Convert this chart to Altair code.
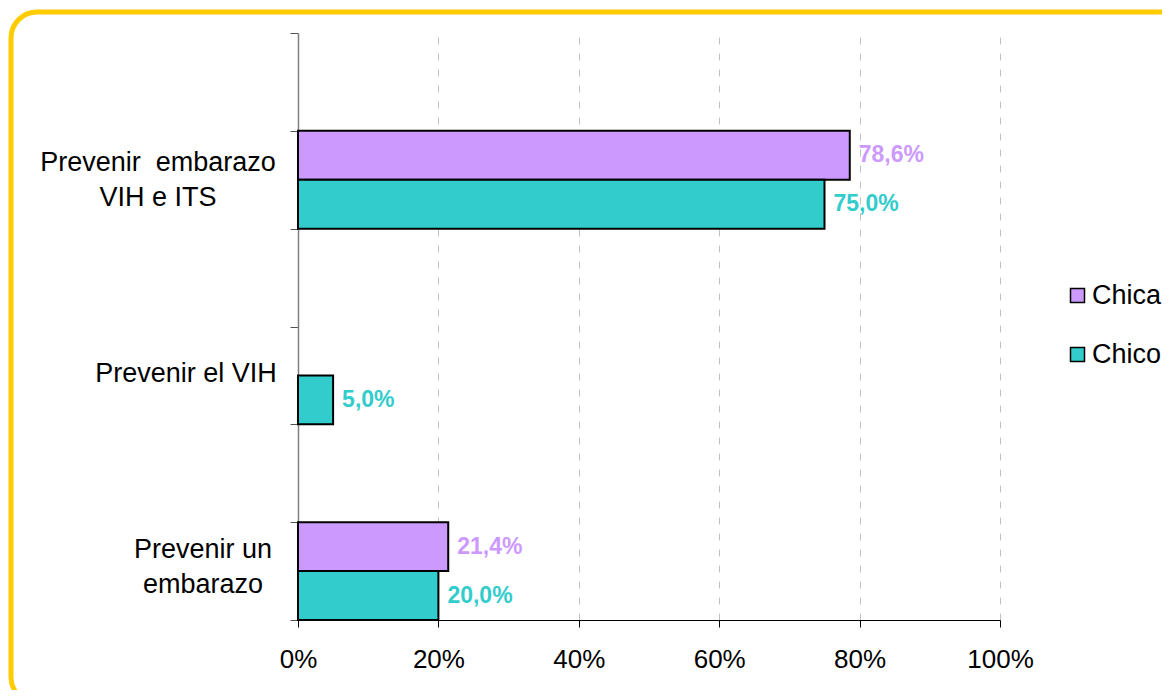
import altair as alt
import pandas as pd

FONT = "Liberation Sans"

categories = ["Prevenir\u00a0 embarazo\nVIH e ITS", "Prevenir el VIH", "Prevenir un\nembarazo"]
series = ["Chica", "Chico"]
chica = [0.786, None, 0.214]
chico = [0.750, 0.050, 0.200]
colors = ["#CC99FF", "#33CCCC"]
spacers = [" ", "  ", "   "]
x_ticks = [0, 0.2, 0.4, 0.6, 0.8, 1.0]

rows = []
for cat, a, b in zip(categories, chica, chico):
    if a is not None:
        rows.append({"cat": cat, "serie": "Chica", "v": a})
    if b is not None:
        rows.append({"cat": cat, "serie": "Chico", "v": b})
df = pd.DataFrame(rows)
cat_df = pd.DataFrame({"cat": categories})

domain = [spacers[0], categories[0], spacers[1], categories[1], spacers[2], categories[2]]

W, H = 702, 587

y_axis = alt.Axis(
    title=None,
    labels=False,
    tickBand="extent",
    tickSize=8,
    tickColor="#555555",
    domainColor="#808080",
    domainWidth=1.5,
    grid=False,
)

x_axis = alt.Axis(
    title=None,
    values=x_ticks,
    format="%",
    labelFont=FONT,
    labelFontSize=26,
    labelColor="black",
    labelPadding=19,
    labelFlush=False,
    tickSize=7,
    tickColor="black",
    domainColor="black",
    domainWidth=1.2,
    grid=True,
    gridColor="#C0C0C0",
    gridDash=[7, 9],
    gridWidth=1,
)

y_scale = alt.Scale(domain=domain, paddingInner=0, paddingOuter=0)
y_enc = alt.Y("cat:N", scale=y_scale, axis=y_axis)
yoff = alt.YOffset("serie:N", scale=alt.Scale(domain=series, paddingInner=0, paddingOuter=0))
x_enc = alt.X("v:Q", scale=alt.Scale(domain=[0, 1], nice=False), axis=x_axis)
color_scale = alt.Scale(domain=series, range=colors)

bars = alt.Chart(df).mark_bar(stroke="black", strokeWidth=2).encode(
    x=x_enc,
    y=y_enc,
    yOffset=yoff,
    color=alt.Color(
        "serie:N",
        scale=color_scale,
        legend=alt.Legend(
            title=None,
            orient="none",
            legendX=766,
            legendY=249,
            padding=0,
            symbolType="square",
            symbolSize=196,
            symbolStrokeColor="black",
            symbolStrokeWidth=1.5,
            symbolOpacity=1,
            labelFont=FONT,
            labelFontSize=27,
            labelColor="black",
            labelOffset=1,
            labelLimit=0,
            rowPadding=31,
        ),
    ),
)

labels = alt.Chart(df).mark_text(
    align="left", baseline="middle", dx=9, font=FONT, fontSize=23, fontWeight="bold"
).transform_calculate(
    lab="replace(format(datum.v, '.1%'), '.', ',')"
).encode(
    x=alt.X("v:Q"),
    y=alt.Y("cat:N"),
    yOffset=alt.YOffset("serie:N"),
    text="lab:N",
    color=alt.Color("serie:N", scale=color_scale, legend=None),
)

cat_labels = alt.Chart(cat_df).mark_text(
    align="center",
    baseline="middle",
    lineBreak="\n",
    lineHeight=35,
    font=FONT,
    fontSize=27,
    color="black",
    dx=alt.expr(
        "datum.cat == 'Prevenir el VIH' ? -112 : (indexof(datum.cat, 'VIH e') >= 0 ? -140 : -95)"
    ),
    dy=alt.expr(
        "datum.cat == 'Prevenir el VIH' ? -1 : (indexof(datum.cat, 'VIH e') >= 0 ? -17 : -21)"
    ),
).encode(
    x=alt.value(0),
    y=alt.Y("cat:N"),
    text="cat:N",
)

border = alt.Chart(pd.DataFrame({"k": [0]})).mark_rect(
    filled=False, stroke="#FFCC00", strokeWidth=5, cornerRadius=26
).encode(
    x=alt.value(-287), x2=alt.value(893), y=alt.value(-21), y2=alt.value(670)
)

chart = alt.layer(border, bars, labels, cat_labels).properties(
    width=W,
    height=H,
    autosize=alt.AutoSizeParams(type="none"),
    padding={"left": 290, "top": 25, "right": 162, "bottom": 70},
).configure_view(stroke=None)

chart.save("out.html", embed_options={"renderer": "svg", "actions": False})
